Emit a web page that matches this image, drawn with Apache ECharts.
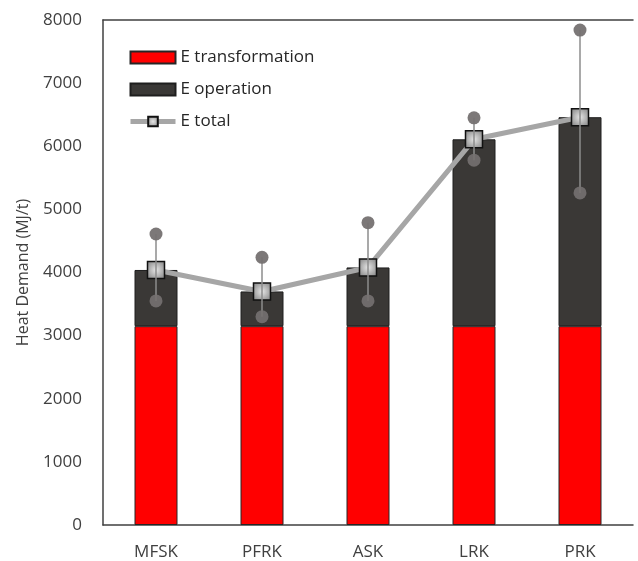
<!DOCTYPE html>
<html>
<head>
<meta charset="utf-8">
<script src="https://cdn.jsdelivr.net/npm/echarts@6/dist/echarts.min.js"></script>
<style>
  html, body { margin: 0; padding: 0; background: #fff; }
  #chart { width: 638px; height: 561px; }
</style>
</head>
<body>
<div id="chart"></div>
<script>
// Kiln types and heat demand (MJ/t)
const kilns = ['MFSK', 'PFRK', 'ASK', 'LRK', 'PRK'];
const eTransformation = [3150, 3150, 3150, 3150, 3150];
const eTotal = [4040, 3700, 4080, 6110, 6460];
const eTotalHigh = [4610, 4240, 4790, 6450, 7840];
const eTotalLow = [3550, 3300, 3550, 5780, 5260];
const yTicks = [0, 1000, 2000, 3000, 4000, 5000, 6000, 7000, 8000];

// Operation share is the part of the total above the transformation energy
const eOperation = eTotal.map((t, i) => t - eTransformation[i]);

const FONT = '"Open Sans", sans-serif';
const chart = echarts.init(document.getElementById('chart'), null, { renderer: 'canvas' });

const squareFill = new echarts.graphic.RadialGradient(0.5, 0.5, 0.7, [
  { offset: 0, color: '#e6e6e6' },
  { offset: 1, color: '#7a7a7a' }
]);

chart.setOption({
  animation: false,
  backgroundColor: '#ffffff',
  grid: { left: 103, right: 5, top: 20, bottom: 36, containLabel: false },
  legend: {
    orient: 'vertical',
    left: 128,
    top: 49,
    padding: 0,
    itemWidth: 45,
    itemHeight: 12,
    itemGap: 15,
    textStyle: { fontFamily: FONT, fontSize: 17, color: '#262626' },
    data: [
      { name: 'E transformation', icon: 'rect' },
      { name: 'E operation', icon: 'rect' },
      { name: 'E total', lineStyle: { width: 5, color: '#a6a6a6' } }
    ]
  },
  xAxis: [{
    type: 'category',
    data: kilns,
    axisLine: { show: true, lineStyle: { color: '#404040', width: 1.5 } },
    axisTick: { show: false },
    axisLabel: { fontFamily: FONT, fontSize: 17, color: '#404040', margin: 19 },
    splitLine: { show: false }
  }, {
    // plot frame line along the top edge
    type: 'category',
    position: 'top',
    data: kilns,
    axisLine: { show: true, lineStyle: { color: '#404040', width: 1.5 } },
    axisTick: { show: false },
    axisLabel: { show: false }
  }],
  yAxis: {
    type: 'value',
    min: yTicks[0],
    max: yTicks[yTicks.length - 1],
    interval: 1000,
    name: 'Heat Demand (MJ/t)',
    nameLocation: 'middle',
    nameGap: 72,
    nameTextStyle: { fontFamily: FONT, fontSize: 16, color: '#404040' },
    axisLine: { show: true, lineStyle: { color: '#404040', width: 1.5 } },
    axisTick: { show: false },
    axisLabel: {
      fontFamily: FONT, fontSize: 17, color: '#404040', margin: 21,
      formatter: v => String(v)
    },
    splitLine: { show: false }
  },
  series: [
    {
      name: 'E transformation',
      type: 'bar',
      stack: 'heat',
      barWidth: 43,
      data: eTransformation,
      itemStyle: { color: '#ff0000', borderColor: '#262626', borderWidth: 1 }
    },
    {
      name: 'E operation',
      type: 'bar',
      stack: 'heat',
      barWidth: 43,
      data: eOperation,
      itemStyle: { color: '#3a3836', borderColor: '#1e1e1e', borderWidth: 1 }
    },
    {
      name: 'E total',
      type: 'line',
      data: eTotal,
      z: 5,
      symbol: 'rect',
      symbolSize: 17,
      lineStyle: { color: '#a6a6a6', width: 5 },
      itemStyle: { color: squareFill, borderColor: '#111111', borderWidth: 1.5 }
    },
    {
      // range whiskers with round end points
      type: 'custom',
      z: 6,
      silent: true,
      data: kilns.map((k, i) => [i, eTotalLow[i], eTotalHigh[i]]),
      renderItem: function (params, api) {
        const lo = api.coord([api.value(0), api.value(1)]);
        const hi = api.coord([api.value(0), api.value(2)]);
        return {
          type: 'group',
          children: [
            { type: 'line', shape: { x1: hi[0], y1: hi[1], x2: lo[0], y2: lo[1] },
              style: { stroke: '#8c8c8c', lineWidth: 1.5 } },
            { type: 'circle', shape: { cx: hi[0], cy: hi[1], r: 6.5 },
              style: { fill: '#757171', opacity: 0.95 } },
            { type: 'circle', shape: { cx: lo[0], cy: lo[1], r: 6.5 },
              style: { fill: '#757171', opacity: 0.9 } }
          ]
        };
      }
    }
  ]
});
</script>
</body>
</html>
